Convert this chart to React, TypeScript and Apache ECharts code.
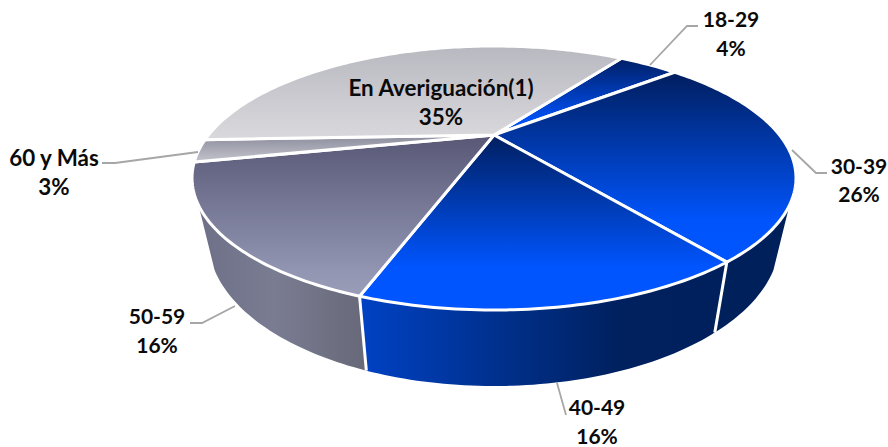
import React, { useEffect, useRef } from "react";
import * as echarts from "echarts";

const categories = ["18-29", "30-39", "40-49", "50-59", "60 y Más", "En Averiguación(1)"];
const values = [4.3, 25.8, 15.6, 16.3, 2.8, 35.2];

const START_DEG = 34.5;
const TOP = { cx: 494, cy: 135, a: 118, b: 285.5, k: 0.3258 };
const BOTTOM = { cx: 494, cy: 192, a: 130, b: 269.5, k: 0.33 };
const WALL_FROM = 120;
const WALL_TO = 240;

const topStops: [number, string][][] = [
  [[0, "#001f63"], [0.8, "#0050f5"], [1, "#0050f5"]],
  [[0, "#011e5e"], [0.78, "#0054fb"], [1, "#0055ff"]],
  [[0, "#011f60"], [0.76, "#0055ff"], [1, "#0055ff"]],
  [[0, "#585876"], [0.85, "#9296b2"], [1, "#9a9db8"]],
  [[0, "#8b8c9c"], [1, "#c3c4cc"]],
  [[0, "#b8b8c0"], [1, "#d9d9dd"]],
];
const wallStops: [number, string][][] = [
  [[0, "#00205c"], [1, "#00205c"]],
  [[0, "#00205c"], [1, "#00205c"]],
  [[0, "#0042c4"], [0.7, "#00215f"], [1, "#00205c"]],
  [[0, "#6e7088"], [0.45, "#7a7c92"], [1, "#676878"]],
  [[0, "#777777"], [1, "#777777"]],
  [[0, "#999999"], [1, "#999999"]],
];

const labelLayout = [
  { x: 731, y1: 18, y2: 47, size: 21, line: [[650, 65], [687, 26], [698, 26]] },
  { x: 859, y1: 165, y2: 193, size: 21, line: [[792, 150], [816, 173], [827, 173]] },
  { x: 597, y1: 406, y2: 435, size: 21, line: [[557, 383], [566, 415]] },
  { x: 157, y1: 315, y2: 344, size: 21, line: [[235, 306], [202, 323], [190, 323]] },
  { x: 54, y1: 157, y2: 186, size: 22.4, line: [[198, 152], [115, 163], [102, 163]] },
  { x: 441, y1: 87.5, y2: 116.5, size: 22.4, line: null },
];

const rimPoint = (deg: number, p: typeof TOP) => {
  const t = (deg * Math.PI) / 180;
  const X = Math.sin(t);
  const Y = Math.cos(t);
  const w = 1 + p.k * Y;
  return [p.cx + (p.b * X) / w, p.cy - (p.a * Y) / w];
};

const arcPoints = (from: number, to: number, p: typeof TOP) => {
  const out: number[][] = [];
  const n = Math.max(2, Math.ceil(to - from));
  for (let i = 0; i <= n; i++) out.push(rimPoint(from + ((to - from) * i) / n, p));
  return out;
};

const toStops = (s: [number, string][]) => s.map(([offset, color]) => ({ offset, color }));
const vGrad = (s: [number, string][]) => new echarts.graphic.LinearGradient(0, 0, 0, 1, toStops(s));
const hGrad = (s: [number, string][]) => new echarts.graphic.LinearGradient(0, 0, 1, 0, toStops(s));

export default function App() {
  const ref = useRef<HTMLDivElement>(null);
  useEffect(() => {
    document.body.style.margin = "0";
    const chart = echarts.init(ref.current!, null, { renderer: "svg" });
    const total = values.reduce((s, v) => s + v, 0);

    const renderItem = (params: any, api: any) => {
      const i = params.dataIndex;
      let before = 0;
      for (let j = 0; j < i; j++) before += values[j];
      const from = START_DEG + (before / total) * 360;
      const to = from + (api.value(0) / total) * 360;
      const children: any[] = [];

      const wf = Math.max(from, WALL_FROM);
      const wt = Math.min(to, WALL_TO);
      if (wt > wf) {
        children.push({
          type: "polygon",
          z2: 1,
          shape: { points: [...arcPoints(wf, wt, TOP), ...arcPoints(wf, wt, BOTTOM).reverse()] },
          style: { fill: hGrad(wallStops[i]) },
        });
        if (from >= WALL_FROM) {
          const a = rimPoint(from, TOP);
          const b = rimPoint(from, BOTTOM);
          children.push({
            type: "line",
            z2: 2,
            shape: { x1: a[0], y1: a[1], x2: b[0], y2: b[1] },
            style: { stroke: "#fff", lineWidth: 3 },
          });
        }
      }

      children.push({
        type: "polygon",
        z2: 3,
        shape: { points: [[TOP.cx, TOP.cy], ...arcPoints(from, to, TOP)] },
        style: { fill: vGrad(topStops[i]), stroke: "#fff", lineWidth: 3, lineJoin: "round" },
      });

      const lay = labelLayout[i];
      if (lay.line) {
        children.push({
          type: "polyline",
          z2: 4,
          shape: { points: lay.line },
          style: { stroke: "#a6a6a6", lineWidth: 1.8, fill: "none" },
        });
      }
      const font = `bold ${lay.size}px Lato`;
      children.push({
        type: "text",
        z2: 5,
        style: { text: categories[i], x: lay.x, y: lay.y1, textAlign: "center", textVerticalAlign: "middle", font, fill: "#0a0a0a" },
      });
      children.push({
        type: "text",
        z2: 5,
        style: { text: `${Math.round(api.value(0))}%`, x: lay.x, y: lay.y2, textAlign: "center", textVerticalAlign: "middle", font, fill: "#0a0a0a" },
      });
      return { type: "group", children };
    };

    chart.setOption({
      animation: false,
      backgroundColor: "#ffffff",
      series: [
        {
          type: "custom",
          coordinateSystem: "none",
          renderItem,
          silent: true,
          data: categories.map((name, i) => ({ name, value: values[i] })),
        },
      ],
    });
    return () => chart.dispose();
  }, []);
  return <div ref={ref} style={{ position: "absolute", left: 0, top: 0, width: 888, height: 447 }} />;
}
